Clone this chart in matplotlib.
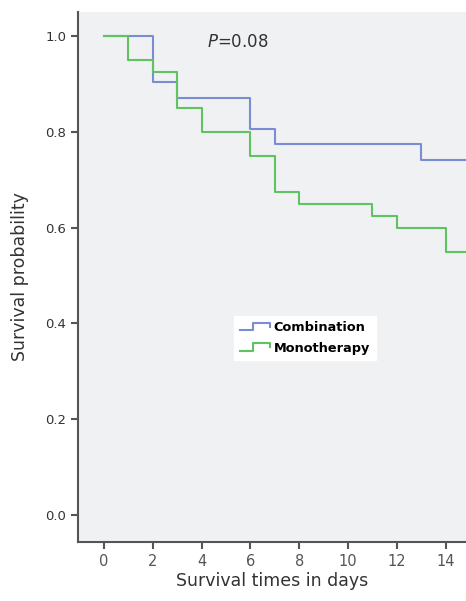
import matplotlib
matplotlib.use("Agg")
import matplotlib.pyplot as plt
from matplotlib.legend_handler import HandlerBase
from matplotlib.lines import Line2D

# Kaplan-Meier-Stufen (Zeit in Tagen, Überlebenswahrscheinlichkeit)
comb_t = [0, 2, 3, 6, 7, 13, 14.9]
comb_s = [1.0, 0.903, 0.871, 0.806, 0.774, 0.742, 0.742]

mono_t = [0, 1, 2, 3, 4, 6, 7, 8, 11, 12, 14, 14.9]
mono_s = [1.0, 0.95, 0.925, 0.85, 0.80, 0.75, 0.675, 0.65, 0.625, 0.60, 0.55, 0.55]

x_ticks = [0, 2, 4, 6, 8, 10, 12, 14]
y_ticks = [0.0, 0.2, 0.4, 0.6, 0.8, 1.0]

c_blue = '#7b8dd2'
c_green = '#5fc35f'
c_axis = '#555555'


class StepHandler(HandlerBase):
    def create_artists(self, legend, orig_handle, xd, yd, w, h, fontsize, trans):
        xs = [0, 0.45 * w, 0.45 * w, w, w]
        ys = [0.1 * h, 0.1 * h, 0.9 * h, 0.9 * h, 0.45 * h]
        ln = Line2D([x - xd for x in xs], [y - yd for y in ys],
                    color=orig_handle.get_color(), lw=1.5)
        ln.set_transform(trans)
        return [ln]


fig = plt.figure(figsize=(4.66, 6.01), dpi=100)
ax = fig.add_axes([78 / 466, 59 / 601, 388 / 466, 530 / 601])
ax.set_facecolor('#f0f1f3')

l1, = ax.step(comb_t, comb_s, where='post', color=c_blue, lw=1.5, label='Combination')
l2, = ax.step(mono_t, mono_s, where='post', color=c_green, lw=1.5, label='Monotherapy')

ax.set_xlim(-1.07, 14.84)
ax.set_ylim(-0.056, 1.05)
ax.set_xticks(x_ticks)
ax.set_yticks(y_ticks)
ax.set_yticklabels([f'{v:.1f}' for v in y_ticks], fontsize=9.5, color='#333333')
ax.set_xticklabels([str(v) for v in x_ticks], fontsize=10.5, color='#555555')

for s in ['top', 'right']:
    ax.spines[s].set_visible(False)
for s in ['left', 'bottom']:
    ax.spines[s].set_color(c_axis)
    ax.spines[s].set_linewidth(1.5)
ax.tick_params(direction='out', length=5, width=1.5, color=c_axis)

ax.set_xlabel('Survival times in days', fontsize=12.5, color='#333333', labelpad=2)
ax.set_ylabel('Survival probability', fontsize=12.5, color='#333333', labelpad=12)

ax.text(4.2, 0.987, r'$\it{P}$=0.08', fontsize=12, color='#333333', va='center')

leg = ax.legend(handles=[l1, l2], handler_map={Line2D: StepHandler()},
                loc='center', bbox_to_anchor=(0.585, 0.385), frameon=True,
                fancybox=False, edgecolor='white', framealpha=1,
                prop={'weight': 'bold', 'size': 9.3}, handlelength=2.3,
                handletextpad=0.3, labelspacing=0.55, borderpad=0.45)

fig.savefig('out.png', dpi=100)
